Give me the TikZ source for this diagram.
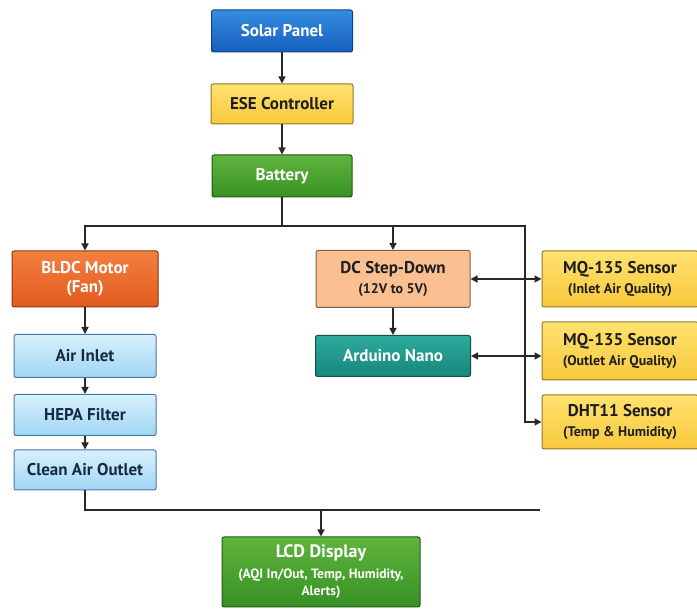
\documentclass[tikz,border=0pt]{standalone}
\usepackage{fontspec}
\setmainfont{PT Sans}
\usetikzlibrary{arrows.meta,positioning,calc}
\definecolor{solartop}{RGB}{52,140,225}
\definecolor{solarbot}{RGB}{22,95,190}
\definecolor{yeltop}{RGB}{255,226,110}
\definecolor{yelbot}{RGB}{248,200,60}
\definecolor{battop}{RGB}{95,180,60}
\definecolor{batbot}{RGB}{55,145,35}
\definecolor{fantop}{RGB}{242,128,62}
\definecolor{fanbot}{RGB}{226,90,30}
\definecolor{peach}{RGB}{250,192,145}
\definecolor{nanotop}{RGB}{45,170,155}
\definecolor{nanobot}{RGB}{22,135,125}
\definecolor{airtop}{RGB}{215,240,253}
\definecolor{airbot}{RGB}{160,214,244}
\definecolor{airedge}{RGB}{70,120,170}
\definecolor{airtext}{RGB}{22,40,68}
\definecolor{darktext}{RGB}{30,30,30}
\definecolor{wire}{RGB}{40,40,40}
\newcommand{\subline}{\bfseries\fontsize{14}{16}\selectfont}
\tikzset{
  block/.style={draw=wire!85, rounded corners=2pt, align=center, inner sep=0pt,
    line width=1pt, font=\bfseries\fontsize{17}{19}\selectfont},
  solar/.style={block, top color=solartop, bottom color=solarbot, draw=solarbot!70!black, text=white},
  yellowbox/.style={block, top color=yeltop, bottom color=yelbot, draw=yelbot!60!black, text=darktext},
  greenbox/.style={block, top color=battop, bottom color=batbot, draw=batbot!60!black, text=white},
  fanbox/.style={block, top color=fantop, bottom color=fanbot, draw=fanbot!60!black, text=white},
  stepbox/.style={block, fill=peach, draw=peach!50!black, text=darktext},
  nanobox/.style={block, top color=nanotop, bottom color=nanobot, draw=nanobot!60!black, text=white},
  airbox/.style={block, top color=airtop, bottom color=airbot, draw=airedge, text=airtext},
  flow/.style={-{Triangle[length=7pt,width=7pt]}, line width=1.3pt, draw=wire},
  both/.style={{Triangle[length=7pt,width=7pt]}-{Triangle[length=7pt,width=7pt]}, line width=1.3pt, draw=wire},
  wireline/.style={line width=1.3pt, draw=wire}
}

\begin{document}
\begin{tikzpicture}[x=1pt, y=-1pt]
  \useasboundingbox (0,0) rectangle (697,609);

  % power chain
  \node[solar, minimum width=141pt, minimum height=42pt] (solar) at (282,31) {Solar Panel};
  \node[yellowbox, minimum width=142pt, minimum height=40pt] (ese) at (282,104) {ESE Controller};
  \node[greenbox, minimum width=140pt, minimum height=42pt] (battery) at (282,176) {Battery};

  % air path
  \node[fanbox, minimum width=146pt, minimum height=56pt] (bldc) at (85,279) {BLDC Motor\\(Fan)};
  \node[airbox, minimum width=142pt, minimum height=43pt] (airin) at (85,356) {Air Inlet};
  \node[airbox, minimum width=142pt, minimum height=41pt] (hepa) at (85,415) {HEPA Filter};
  \node[airbox, minimum width=142pt, minimum height=40pt] (outlet) at (85,470) {Clean Air Outlet};

  % control
  \node[stepbox, minimum width=154pt, minimum height=57pt] (stepdown) at (393,279)
    {DC Step-Down\\[1pt]{\subline (12V to 5V)}};
  \node[nanobox, minimum width=155pt, minimum height=41pt] (nano) at (393,356) {Arduino Nano};

  % sensors
  \node[yellowbox, minimum width=156pt, minimum height=56pt] (mqin) at (620,279)
    {MQ-135 Sensor\\[1pt]{\subline (Inlet Air Quality)}};
  \node[yellowbox, minimum width=156pt, minimum height=58pt] (mqout) at (620,351)
    {MQ-135 Sensor\\[1pt]{\subline (Outlet Air Quality)}};
  \node[yellowbox, minimum width=156pt, minimum height=54pt] (dht) at (620,422)
    {DHT11 Sensor\\[1pt]{\subline (Temp \& Humidity)}};

  % display
  \node[greenbox, minimum width=198pt, minimum height=70pt, font=\bfseries\fontsize{18}{20}\selectfont] (lcd) at (321,572)
    {LCD Display\\[1pt]{\bfseries\fontsize{13.5}{15}\selectfont (AQI In/Out, Temp, Humidity,}\\[-3pt]{\bfseries\fontsize{13.5}{15}\selectfont Alerts)}};

  \coordinate (bus) at (282,226);
  \coordinate (busright) at (525,226);
  \coordinate (lcdleft) at (85,510);
  \coordinate (lcdjoin) at (321,510);
  \coordinate (lcdright) at (540,510);

  \draw[flow] (solar) -- (ese);
  \draw[flow] (ese) -- (battery);
  \draw[wireline] (battery) -- (bus);
  \draw[flow] (bus) -| (bldc.north);
  \draw[flow] (bus) -| (stepdown.north);
  \draw[flow] (bus) -- (busright) |- (dht.west);
  \draw[flow] (bldc) -- (airin);
  \draw[flow] (airin) -- (hepa);
  \draw[flow] (hepa) -- (outlet);
  \draw[flow] (stepdown) -- (nano);
  \draw[both] (stepdown.east) -- (mqin.west);
  \draw[both] (nano.east) -- (nano.east -| mqout.west);
  \draw[wireline] (outlet) -- (lcdleft) -- (lcdright);
  \draw[flow] (lcdjoin) -- (lcd);
\end{tikzpicture}
\end{document}
